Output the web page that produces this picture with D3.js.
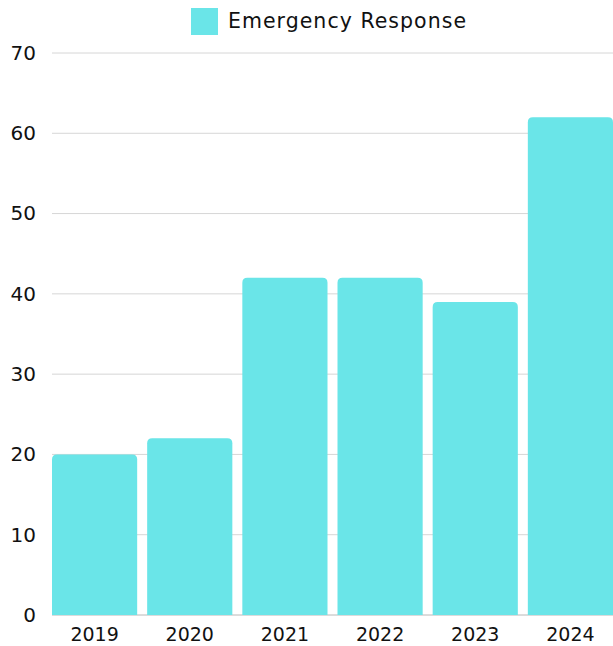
<!DOCTYPE html>
<html>
<head>
<meta charset="utf-8">
<script src="https://cdn.jsdelivr.net/npm/d3@7"></script>
<style>
  html, body { margin: 0; padding: 0; background: #fff; }
  svg { display: block; font-family: "DejaVu Sans", sans-serif; }
</style>
</head>
<body>
<svg id="chart" width="613" height="646"></svg>
<script>
const years = ["2019", "2020", "2021", "2022", "2023", "2024"];
const emergencyResponse = [20, 22, 42, 42, 39, 62];
const yTicks = [0, 10, 20, 30, 40, 50, 60, 70];
const seriesName = "Emergency Response";

const W = 613, H = 646;
const margin = { top: 53, right: 0, bottom: 31, left: 52 };
const color = "#6ae5e8";
const fontFamily = "\"DejaVu Sans\", sans-serif";
const svg = d3.select("#chart");

const x = d3.scaleBand()
  .domain(years)
  .range([margin.left, W - margin.right])
  .paddingInner(0.105)
  .paddingOuter(0);

const y = d3.scaleLinear()
  .domain([0, 70])
  .range([H - margin.bottom, margin.top]);

// grid lines
svg.append("g")
  .selectAll("line")
  .data(yTicks)
  .join("line")
  .attr("x1", margin.left)
  .attr("x2", W - margin.right)
  .attr("y1", d => y(d))
  .attr("y2", d => y(d))
  .attr("stroke", d => d === 0 ? "#b8b8b8" : "#d6d6d6")
  .attr("stroke-width", 1);

// y axis labels
const yAxis = d3.axisLeft(y).tickValues(yTicks).tickSize(0).tickPadding(0);
svg.append("g")
  .attr("transform", `translate(${margin.left - 16},0)`)
  .call(yAxis)
  .call(g => g.select(".domain").remove())
  .call(g => g.selectAll("text")
    .attr("font-size", 20)
    .attr("fill", "#111")
    .attr("font-family", fontFamily));

// bars with rounded top corners
const r = 5;
function barPath(x0, w, yTop, yBase) {
  const rr = Math.min(r, (yBase - yTop));
  return `M${x0},${yBase}V${yTop + rr}Q${x0},${yTop} ${x0 + rr},${yTop}` +
         `H${x0 + w - rr}Q${x0 + w},${yTop} ${x0 + w},${yTop + rr}V${yBase}Z`;
}
svg.append("g")
  .selectAll("path")
  .data(years.map((yr, i) => ({ yr, v: emergencyResponse[i] })))
  .join("path")
  .attr("d", d => barPath(x(d.yr), x.bandwidth(), y(d.v), y(0)))
  .attr("fill", color);

// x axis labels
const xAxis = d3.axisBottom(x).tickSize(0).tickPadding(0);
svg.append("g")
  .attr("transform", `translate(0,${y(0) + 12})`)
  .call(xAxis)
  .call(g => g.select(".domain").remove())
  .call(g => g.selectAll("text")
    .attr("font-size", 19)
    .attr("fill", "#111")
    .attr("font-family", fontFamily));

// legend
const legend = svg.append("g").attr("transform", "translate(191,8)");
legend.append("rect").attr("width", 27).attr("height", 27).attr("fill", color);
legend.append("text")
  .attr("x", 37).attr("y", 20)
  .attr("font-size", 20.5)
  .attr("fill", "#111")
  .attr("textLength", 238)
  .attr("lengthAdjust", "spacing")
  .text(seriesName);
</script>
</body>
</html>
